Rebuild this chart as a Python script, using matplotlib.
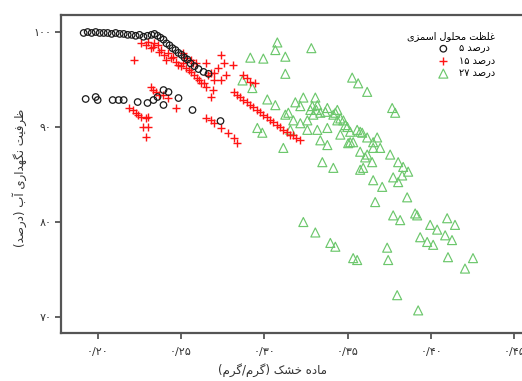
import unicodedata
import matplotlib
matplotlib.use('Agg')
import matplotlib.pyplot as plt

plt.rcParams['font.family'] = ['DejaVu Sans']

# --- data ---
# 5 درصد (black circles)
x_5 = [0.1916, 0.1940, 0.1964, 0.1988, 0.2012, 0.2036, 0.2060, 0.2084, 0.2108, 0.2132,
       0.2156, 0.2180, 0.2204, 0.2228, 0.2251, 0.2275, 0.2299, 0.2323,
       0.2341, 0.2359, 0.2377, 0.2395, 0.2413, 0.2431, 0.2449, 0.2467, 0.2485, 0.2503,
       0.2521, 0.2539, 0.2557, 0.2581, 0.2605, 0.2635, 0.2665,
       0.1928, 0.1988, 0.2000, 0.2090, 0.2126, 0.2156, 0.2240, 0.2299, 0.2335, 0.2359,
       0.2395, 0.2425, 0.2395, 0.2485, 0.2569, 0.2737]
y_5 = [99.9, 100.0, 99.9, 100.0, 99.9, 99.9, 99.9, 99.8, 99.9, 99.8,
       99.8, 99.7, 99.7, 99.6, 99.7, 99.5, 99.6, 99.7,
       99.8, 99.6, 99.4, 99.2, 98.8, 98.6, 98.3, 98.1, 97.8, 97.6,
       97.3, 97.1, 96.7, 96.4, 96.1, 95.8, 95.6,
       92.95, 93.16, 92.84, 92.84, 92.84, 92.84, 92.63, 92.53, 92.84, 93.16,
       93.89, 93.68, 92.32, 93.05, 91.79, 90.63]

# 15 درصد (red plus)
x_15 = [0.2216, 0.2257, 0.2287, 0.2299, 0.2317, 0.2329, 0.2335, 0.2359, 0.2365, 0.2377,
        0.2395, 0.2407, 0.2419, 0.2437, 0.2449, 0.2467, 0.2479, 0.2497, 0.2509, 0.2509,
        0.2527, 0.2527, 0.2545, 0.2557, 0.2557, 0.2569, 0.2575, 0.2587, 0.2593, 0.2605,
        0.2617, 0.2635, 0.2647, 0.2677, 0.2689,
        0.2317, 0.2329, 0.2347, 0.2365, 0.2389, 0.2419, 0.2467, 0.2186, 0.2210, 0.2228,
        0.2240, 0.2257, 0.2287, 0.2299, 0.2269, 0.2299, 0.2287,
        0.2737, 0.2755, 0.2809, 0.2647, 0.2659, 0.2695, 0.2695, 0.2719, 0.2737, 0.2767,
        0.2677, 0.2874, 0.2898, 0.2916, 0.2946, 0.2815, 0.2838, 0.2856, 0.2874, 0.2898,
        0.2916, 0.2934, 0.2958, 0.2976, 0.2994, 0.3018, 0.3036, 0.3054, 0.3078, 0.3096,
        0.3114, 0.3138, 0.3156, 0.3174, 0.3192, 0.3216,
        0.2647, 0.2677, 0.2695, 0.2737, 0.2779, 0.2815, 0.2838]
y_15 = [97.1, 98.8, 98.6, 98.9, 98.3, 98.4, 98.8, 98.6, 97.9, 98.1,
        97.6, 97.1, 97.8, 97.3, 97.4, 96.8, 96.5, 96.4, 96.7, 97.8,
        96.2, 97.3, 96.0, 95.8, 97.1, 96.7, 95.5, 96.7, 95.2, 94.9,
        94.6, 94.6, 94.2, 95.7, 93.9,
        94.2, 93.9, 93.7, 93.4, 93.4, 93.1, 92.0, 92.0, 91.8, 91.5,
        91.3, 91.1, 90.9, 91.1, 90.0, 90.0, 88.9,
        97.6, 96.7, 96.5, 96.7, 95.5, 95.7, 94.9, 96.2, 94.9, 95.5,
        93.2, 95.5, 95.2, 94.7, 94.6, 93.7, 93.4, 93.2, 92.8, 92.6,
        92.3, 92.1, 91.8, 91.6, 91.3, 91.1, 90.7, 90.5, 90.2, 90.0,
        89.7, 89.5, 89.2, 89.2, 88.8, 88.6,
        91.0, 90.7, 90.4, 89.9, 89.4, 88.8, 88.3]

# 27 درصد (green triangles)
x_27 = [0.3078, 0.3066, 0.3126, 0.3282, 0.2916, 0.2994, 0.3126, 0.2869, 0.2928, 0.3018,
        0.3066, 0.3186, 0.3234, 0.3306, 0.3318, 0.3378, 0.3438, 0.3216, 0.3276, 0.3144,
        0.3126, 0.3174, 0.3216, 0.3258, 0.3294, 0.3336, 0.3288, 0.3312, 0.3366, 0.3414,
        0.3438, 0.3474, 0.3498, 0.3378, 0.3318, 0.3456, 0.3258, 0.3156, 0.2958, 0.2988,
        0.3114, 0.3378, 0.3336, 0.3527, 0.3563, 0.3617, 0.3767, 0.3785, 0.3426, 0.3456,
        0.3486, 0.3515, 0.3515, 0.3557, 0.3575, 0.3587, 0.3617, 0.3653, 0.3695, 0.3677,
        0.3653, 0.3533, 0.3503, 0.3575, 0.3617, 0.3605, 0.3755, 0.3647, 0.3593, 0.3575,
        0.3803, 0.3833, 0.3863, 0.3827, 0.3414, 0.3348, 0.3653, 0.3707, 0.3773, 0.3803,
        0.3857, 0.3665, 0.3773, 0.3815, 0.3905, 0.3917, 0.3995, 0.4097, 0.4144, 0.4037,
        0.4085, 0.3935, 0.3977, 0.4013, 0.4126, 0.3737, 0.3743, 0.4102, 0.4252, 0.4204,
        0.3797, 0.3923, 0.3234, 0.3306, 0.3396, 0.3426, 0.3533, 0.3557]
y_27 = [98.9, 98.1, 97.4, 98.3, 97.3, 97.2, 95.6, 94.9, 94.1, 92.9,
        92.3, 92.6, 93.1, 93.1, 92.3, 92.0, 91.8, 92.2, 91.8, 91.5,
        91.3, 90.7, 90.4, 90.7, 91.3, 91.5, 92.2, 91.8, 91.6, 91.3,
        90.7, 90.7, 90.0, 89.9, 89.7, 89.2, 89.7, 89.7, 89.9, 89.4,
        87.8, 88.1, 88.6, 95.2, 94.6, 93.7, 92.0, 91.5, 91.5, 90.9,
        90.2, 89.5, 88.4, 89.7, 89.5, 89.4, 88.9, 88.4, 87.8, 88.9,
        87.8, 88.4, 88.3, 87.4, 87.1, 86.8, 87.1, 86.3, 85.7, 85.5,
        86.3, 85.8, 85.3, 84.9, 85.7, 86.3, 84.4, 83.7, 84.7, 84.2,
        82.6, 82.1, 80.7, 80.2, 80.9, 80.7, 79.7, 80.4, 79.7, 79.2,
        78.6, 78.4, 77.9, 77.6, 78.1, 77.3, 76.0, 76.3, 76.2, 75.1,
        72.3, 70.7, 80.0, 78.9, 77.8, 77.4, 76.2, 76.0]

x_ticks = [0.20, 0.25, 0.30, 0.35, 0.40, 0.45]
y_ticks = [70, 80, 90, 100]
legend_title = 'غلظت محلول اسمزی'
legend_numbers = ['5', '15', '27']
percent_word = 'درصد'
x_title = 'ماده خشک (گرم/گرم)'
y_title = 'ظرفیت نگهداری آب (درصد)'

# --- persian text helpers (matplotlib does no shaping / bidi) ---
FA_DIGITS = str.maketrans('0123456789', '۰۱۲۳۴۵۶۷۸۹')
RIGHT_JOIN = set('اآأإدذرزژو')
MIRROR = {'(': ')', ')': '('}


def is_letter(c):
    return bool(c) and unicodedata.name(c, '').startswith('ARABIC LETTER')


def rtl(text):
    out = []
    for i, c in enumerate(text):
        if not is_letter(c):
            out.append(MIRROR.get(c, c))
            continue
        prev = text[i - 1] if i > 0 else ''
        nxt = text[i + 1] if i + 1 < len(text) else ''
        jp = is_letter(prev) and prev not in RIGHT_JOIN
        jn = is_letter(nxt) and c not in RIGHT_JOIN
        if jp and jn:
            form = 'MEDIAL'
        elif jp:
            form = 'FINAL'
        elif jn:
            form = 'INITIAL'
        else:
            form = 'ISOLATED'
        try:
            out.append(unicodedata.lookup(unicodedata.name(c) + ' ' + form + ' FORM'))
        except KeyError:
            out.append(c)
    return ''.join(reversed(out))


def fa(s):
    return s.translate(FA_DIGITS)


fig = plt.figure(figsize=(5.22, 3.81), dpi=100)
ax = fig.add_axes([61 / 522, 1 - 333 / 381, 470 / 522, 318 / 381])

ax.scatter(x_5, y_5, s=22, marker='o', facecolors='none', edgecolors='#1a1a1a',
           linewidths=0.9, label=fa(legend_numbers[0]) + ' ' + rtl(percent_word), zorder=3)
ax.scatter(x_15, y_15, s=32, marker='+', color='#ff1414', linewidths=1.0,
           label=fa(legend_numbers[1]) + ' ' + rtl(percent_word), zorder=2)
ax.scatter(x_27, y_27, s=42, marker='^', facecolors='none', edgecolors='#6cc76c',
           linewidths=0.85, label=fa(legend_numbers[2]) + ' ' + rtl(percent_word), zorder=1)

ax.set_xlim(0.178, 0.46)
ax.set_ylim(68.32, 101.79)
ax.set_xticks(x_ticks)
ax.set_xticklabels([fa('%.2f' % v).replace('.', '/') for v in x_ticks])
ax.set_yticks(y_ticks)
ax.set_yticklabels([fa(str(v)) for v in y_ticks])

for side in ['left', 'bottom', 'top']:
    ax.spines[side].set_color('#555555')
    ax.spines[side].set_linewidth(1.6)
ax.spines['right'].set_visible(False)
ax.tick_params(direction='out', length=4, width=1.3, color='#555555',
               labelsize=8, labelcolor='#333333')
ax.tick_params(axis='x', pad=6)
ax.tick_params(axis='y', pad=3)

fig.text(273 / 522, 1 - 370 / 381, rtl(x_title), ha='center', va='center',
         fontsize=8.5, color='#333333')
fig.text(20 / 522, 1 - 178 / 381, rtl(y_title), ha='center', va='center',
         rotation=90, fontsize=8.5, color='#333333')

leg = ax.legend(title=rtl(legend_title), loc='upper right', frameon=False,
                bbox_to_anchor=(500 / 522, 1 - 26 / 381), bbox_transform=fig.transFigure,
                fontsize=7, title_fontsize=7, handletextpad=0.6, labelspacing=0.25,
                alignment='right', borderpad=0)

fig.savefig('out.png', dpi=100)
